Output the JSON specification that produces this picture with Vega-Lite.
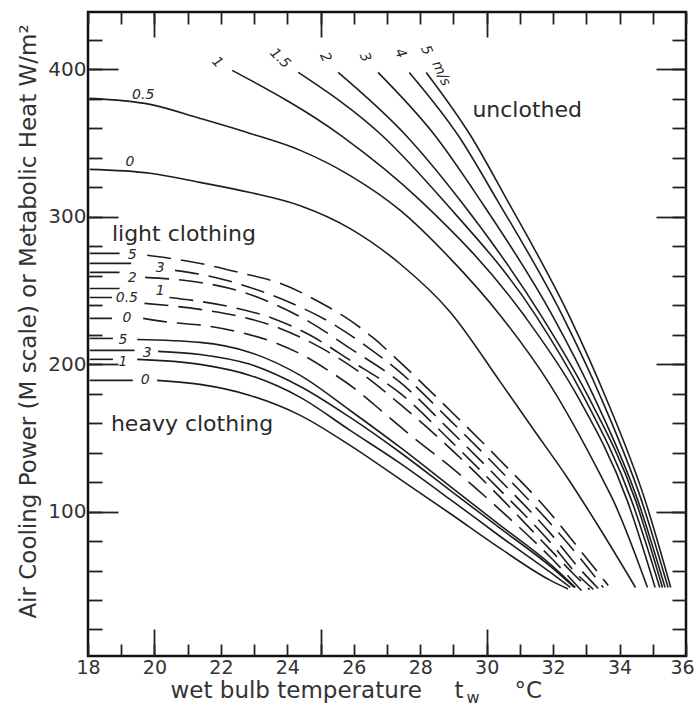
{
  "$schema": "https://vega.github.io/schema/vega-lite/v6.json",
  "width": 598,
  "height": 644,
  "autosize": {"type": "none"},
  "padding": {"left": 88, "top": 12, "right": 11, "bottom": 50},
  "background": "white",
  "config": {
    "view": {"stroke": "#111", "strokeWidth": 2.5},
    "axis": {"domain": false, "grid": false, "tickColor": "#222", "tickWidth": 1.8, "labelFont": "DejaVu Sans", "titleFont": "DejaVu Sans", "labelColor": "#333", "titleColor": "#333", "titleFontWeight": "normal", "labelFlush": false, "labelOverlap": false}
  },
  "datasets": {
    "unclothed": [
      {"c":"U0","p":"b","x":18.05,"y":332.2},{"c":"U0","p":"b","x":19.87,"y":329.6},{"c":"U0","p":"b","x":21.37,"y":323.4},{"c":"U0","p":"b","x":22.88,"y":316.5},{"c":"U0","p":"b","x":24.39,"y":307.5},{"c":"U0","p":"b","x":25.89,"y":292.0},{"c":"U0","p":"b","x":27.40,"y":268.0},{"c":"U0","p":"b","x":28.90,"y":235.5},{"c":"U0","p":"b","x":30.41,"y":188.0},{"c":"U0","p":"b","x":31.40,"y":156.0},{"c":"U0","p":"b","x":32.43,"y":123.0},{"c":"U0","p":"b","x":33.42,"y":88.0},{"c":"U0","p":"b","x":34.48,"y":48.5},
      {"c":"U05","p":"b","x":18.05,"y":380.4},{"c":"U05","p":"b","x":19.87,"y":376.3},{"c":"U05","p":"b","x":21.37,"y":366.8},{"c":"U05","p":"b","x":22.88,"y":356.6},{"c":"U05","p":"b","x":24.39,"y":345.1},{"c":"U05","p":"b","x":25.89,"y":328.0},{"c":"U05","p":"b","x":27.40,"y":304.4},{"c":"U05","p":"b","x":28.90,"y":271.8},{"c":"U05","p":"b","x":30.41,"y":233.1},{"c":"U05","p":"b","x":31.92,"y":185.6},{"c":"U05","p":"b","x":33.42,"y":125.0},{"c":"U05","p":"b","x":33.81,"y":107.6},{"c":"U05","p":"b","x":34.84,"y":48.5},
      {"c":"U1","p":"b","x":22.34,"y":399.4},{"c":"U1","p":"b","x":25.63,"y":355.0},{"c":"U1","p":"b","x":28.00,"y":311.2},{"c":"U1","p":"b","x":31.13,"y":233.0},{"c":"U1","p":"b","x":32.72,"y":178.8},{"c":"U1","p":"b","x":34.23,"y":107.6},{"c":"U1","p":"b","x":35.07,"y":48.5},
      {"c":"U15","p":"b","x":24.33,"y":398.0},{"c":"U15","p":"b","x":26.86,"y":355.0},{"c":"U15","p":"b","x":28.69,"y":311.2},{"c":"U15","p":"b","x":31.48,"y":233.0},{"c":"U15","p":"b","x":32.90,"y":178.8},{"c":"U15","p":"b","x":34.36,"y":107.6},{"c":"U15","p":"b","x":35.21,"y":48.5},
      {"c":"U2","p":"b","x":25.53,"y":398.0},{"c":"U2","p":"b","x":27.58,"y":355.0},{"c":"U2","p":"b","x":29.20,"y":311.2},{"c":"U2","p":"b","x":31.64,"y":233.0},{"c":"U2","p":"b","x":33.04,"y":178.8},{"c":"U2","p":"b","x":34.48,"y":107.6},{"c":"U2","p":"b","x":35.29,"y":48.5},
      {"c":"U3","p":"b","x":26.73,"y":398.0},{"c":"U3","p":"b","x":28.45,"y":355.0},{"c":"U3","p":"b","x":29.81,"y":311.2},{"c":"U3","p":"b","x":31.98,"y":233.0},{"c":"U3","p":"b","x":33.21,"y":178.8},{"c":"U3","p":"b","x":34.55,"y":107.6},{"c":"U3","p":"b","x":35.37,"y":48.5},
      {"c":"U4","p":"b","x":27.67,"y":398.0},{"c":"U4","p":"b","x":29.15,"y":355.0},{"c":"U4","p":"b","x":30.32,"y":311.2},{"c":"U4","p":"b","x":32.28,"y":233.0},{"c":"U4","p":"b","x":33.41,"y":178.8},{"c":"U4","p":"b","x":34.66,"y":107.6},{"c":"U4","p":"b","x":35.46,"y":48.5},
      {"c":"U5","p":"b","x":28.18,"y":398.0},{"c":"U5","p":"b","x":29.52,"y":355.0},{"c":"U5","p":"b","x":30.62,"y":311.2},{"c":"U5","p":"b","x":32.48,"y":233.0},{"c":"U5","p":"b","x":33.56,"y":178.8},{"c":"U5","p":"b","x":34.77,"y":107.6},{"c":"U5","p":"b","x":35.54,"y":48.5}
    ],
    "heavy": [
      {"c":"H5","p":"a","x":18.05,"y":217.5},{"c":"H5","p":"a","x":18.75,"y":217.5},
      {"c":"H5","p":"b","x":19.48,"y":216.8},{"c":"H5","p":"b","x":21.37,"y":214.8},{"c":"H5","p":"b","x":22.88,"y":208.0},{"c":"H5","p":"b","x":24.39,"y":192.4},{"c":"H5","p":"b","x":25.89,"y":168.6},{"c":"H5","p":"b","x":27.40,"y":143.5},{"c":"H5","p":"b","x":28.90,"y":117.1},{"c":"H5","p":"b","x":30.41,"y":90.6},{"c":"H5","p":"b","x":31.92,"y":64.2},{"c":"H5","p":"b","x":32.67,"y":48.5},
      {"c":"H3","p":"a","x":18.05,"y":209.4},{"c":"H3","p":"a","x":19.40,"y":209.4},
      {"c":"H3","p":"b","x":20.11,"y":208.7},{"c":"H3","p":"b","x":21.37,"y":206.6},{"c":"H3","p":"b","x":22.88,"y":199.9},{"c":"H3","p":"b","x":24.39,"y":184.9},{"c":"H3","p":"b","x":25.89,"y":163.9},{"c":"H3","p":"b","x":27.40,"y":140.1},{"c":"H3","p":"b","x":28.90,"y":114.4},{"c":"H3","p":"b","x":30.41,"y":88.6},{"c":"H3","p":"b","x":31.92,"y":62.8},{"c":"H3","p":"b","x":32.64,"y":48.5},
      {"c":"H1","p":"a","x":18.05,"y":203.3},{"c":"H1","p":"a","x":18.75,"y":203.3},
      {"c":"H1","p":"b","x":19.48,"y":203.3},{"c":"H1","p":"b","x":21.37,"y":199.9},{"c":"H1","p":"b","x":22.88,"y":192.4},{"c":"H1","p":"b","x":24.39,"y":177.5},{"c":"H1","p":"b","x":25.89,"y":155.1},{"c":"H1","p":"b","x":27.40,"y":132.7},{"c":"H1","p":"b","x":28.90,"y":108.3},{"c":"H1","p":"b","x":30.41,"y":83.1},{"c":"H1","p":"b","x":31.92,"y":58.7},{"c":"H1","p":"b","x":32.52,"y":48.5},
      {"c":"H0","p":"a","x":18.05,"y":189.0},{"c":"H0","p":"a","x":19.35,"y":189.0},
      {"c":"H0","p":"b","x":20.08,"y":189.0},{"c":"H0","p":"b","x":21.37,"y":186.3},{"c":"H0","p":"b","x":22.88,"y":178.8},{"c":"H0","p":"b","x":24.39,"y":165.3},{"c":"H0","p":"b","x":25.89,"y":144.9},{"c":"H0","p":"b","x":27.40,"y":121.8},{"c":"H0","p":"b","x":28.90,"y":98.7},{"c":"H0","p":"b","x":30.41,"y":75.0},{"c":"H0","p":"b","x":31.92,"y":53.3},{"c":"H0","p":"b","x":32.45,"y":47.5}
    ],
    "light": [
      {"c":"L5","p":"a","x":18.05,"y":275.2},{"c":"L5","p":"a","x":18.95,"y":275.2},
      {"c":"L5","p":"b","x":19.78,"y":273.9},{"c":"L5","p":"b","x":20.68,"y":271.1},{"c":"L5","p":"b","x":21.52,"y":267.7},{"c":"L5","p":"b","x":22.67,"y":261.6},{"c":"L5","p":"b","x":23.78,"y":254.9},{"c":"L5","p":"b","x":24.99,"y":241.9},{"c":"L5","p":"b","x":25.89,"y":229.7},{"c":"L5","p":"b","x":26.58,"y":218.0},{"c":"L5","p":"b","x":27.40,"y":201.2},{"c":"L5","p":"b","x":28.90,"y":168.6},{"c":"L5","p":"b","x":30.41,"y":134.7},{"c":"L5","p":"b","x":31.92,"y":98.7},{"c":"L5","p":"b","x":32.82,"y":73.6},{"c":"L5","p":"b","x":33.66,"y":49.9},
      {"c":"L3","p":"a","x":18.05,"y":268.4},{"c":"L3","p":"a","x":19.30,"y":268.4},
      {"c":"L3","p":"b","x":20.62,"y":263.7},{"c":"L3","p":"b","x":21.83,"y":258.9},{"c":"L3","p":"b","x":22.88,"y":252.1},{"c":"L3","p":"b","x":24.08,"y":241.9},{"c":"L3","p":"b","x":25.29,"y":228.4},{"c":"L3","p":"b","x":26.34,"y":212.8},{"c":"L3","p":"b","x":27.40,"y":194.4},{"c":"L3","p":"b","x":28.90,"y":161.9},{"c":"L3","p":"b","x":30.41,"y":127.9},{"c":"L3","p":"b","x":31.92,"y":91.9},{"c":"L3","p":"b","x":32.82,"y":68.2},{"c":"L3","p":"b","x":33.51,"y":48.5},
      {"c":"L2","p":"a","x":18.05,"y":262.3},{"c":"L2","p":"a","x":18.95,"y":262.3},
      {"c":"L2","p":"b","x":19.72,"y":258.9},{"c":"L2","p":"b","x":21.37,"y":255.5},{"c":"L2","p":"b","x":22.49,"y":250.1},{"c":"L2","p":"b","x":23.69,"y":239.9},{"c":"L2","p":"b","x":24.69,"y":228.4},{"c":"L2","p":"b","x":25.89,"y":210.7},{"c":"L2","p":"b","x":27.40,"y":187.6},{"c":"L2","p":"b","x":28.90,"y":155.1},{"c":"L2","p":"b","x":30.41,"y":121.1},{"c":"L2","p":"b","x":31.92,"y":85.2},{"c":"L2","p":"b","x":32.76,"y":62.2},{"c":"L2","p":"b","x":33.36,"y":47.8},
      {"c":"L1","p":"a","x":18.05,"y":251.4},{"c":"L1","p":"a","x":18.95,"y":251.4},
      {"c":"L1","p":"b","x":20.45,"y":245.3},{"c":"L1","p":"b","x":21.16,"y":243.3},{"c":"L1","p":"b","x":22.37,"y":238.5},{"c":"L1","p":"b","x":23.57,"y":231.1},{"c":"L1","p":"b","x":24.69,"y":219.6},{"c":"L1","p":"b","x":25.89,"y":202.6},{"c":"L1","p":"b","x":27.40,"y":180.2},{"c":"L1","p":"b","x":28.90,"y":148.3},{"c":"L1","p":"b","x":30.41,"y":114.4},{"c":"L1","p":"b","x":31.92,"y":79.0},{"c":"L1","p":"b","x":32.67,"y":58.7},{"c":"L1","p":"b","x":33.21,"y":47.2},
      {"c":"L05","p":"a","x":18.05,"y":245.3},{"c":"L05","p":"a","x":18.72,"y":245.3},
      {"c":"L05","p":"b","x":19.70,"y":241.3},{"c":"L05","p":"b","x":21.37,"y":237.2},{"c":"L05","p":"b","x":22.58,"y":232.4},{"c":"L05","p":"b","x":23.78,"y":224.3},{"c":"L05","p":"b","x":24.99,"y":211.4},{"c":"L05","p":"b","x":26.19,"y":194.4},{"c":"L05","p":"b","x":27.40,"y":172.7},{"c":"L05","p":"b","x":28.90,"y":142.9},{"c":"L05","p":"b","x":30.41,"y":109.6},{"c":"L05","p":"b","x":31.92,"y":74.0},{"c":"L05","p":"b","x":32.60,"y":58.0},{"c":"L05","p":"b","x":33.10,"y":47.0},
      {"c":"L0","p":"a","x":18.05,"y":231.1},{"c":"L0","p":"a","x":18.72,"y":231.1},
      {"c":"L0","p":"b","x":19.66,"y":231.1},{"c":"L0","p":"b","x":20.47,"y":228.4},{"c":"L0","p":"b","x":21.46,"y":226.3},{"c":"L0","p":"b","x":22.58,"y":221.6},{"c":"L0","p":"b","x":23.69,"y":214.1},{"c":"L0","p":"b","x":24.48,"y":206.0},{"c":"L0","p":"b","x":25.23,"y":195.8},{"c":"L0","p":"b","x":26.10,"y":182.2},{"c":"L0","p":"b","x":26.89,"y":167.3},{"c":"L0","p":"b","x":27.79,"y":150.3},{"c":"L0","p":"b","x":28.90,"y":130.6},{"c":"L0","p":"b","x":30.41,"y":101.0},{"c":"L0","p":"b","x":31.92,"y":69.0},{"c":"L0","p":"b","x":32.85,"y":46.5}
    ],
    "regions": [
      {"t":"unclothed","x":29.57,"y":367.5},
      {"t":"light clothing","x":18.72,"y":283.3},
      {"t":"heavy clothing","x":18.69,"y":154.4}
    ],
    "flatlabels": [
      {"t":"0.5","x":19.66,"y":382.4},{"t":"0","x":19.26,"y":337.0},
      {"t":"5","x":19.33,"y":273.9},{"t":"3","x":20.17,"y":265.1},{"t":"2","x":19.33,"y":258.2},{"t":"1","x":20.17,"y":249.4},{"t":"0.5","x":19.17,"y":244.6},{"t":"0","x":19.17,"y":231.1},
      {"t":"5","x":19.05,"y":216.1},{"t":"3","x":19.78,"y":207.3},{"t":"1","x":19.05,"y":201.2},{"t":"0","x":19.72,"y":189.0}
    ],
    "wind45": [
      {"t":"1","x":21.89,"y":404.8},{"t":"1.5","x":23.78,"y":407.5}
    ],
    "wind65": [
      {"t":"2","x":25.14,"y":408.2},{"t":"3","x":26.34,"y":408.2},{"t":"4","x":27.40,"y":410.9},{"t":"5","x":28.18,"y":413.0},{"t":"m/s","x":28.63,"y":397.3}
    ]
  },
  "resolve": {"axis": {"x": "independent", "y": "independent"}},
  "layer": [
    {
      "data": {"name": "unclothed"},
      "mark": {"type": "line", "interpolate": "monotone", "color": "#1e1e1e", "strokeWidth": 1.6},
      "encoding": {
        "x": {"field": "x", "type": "quantitative", "scale": {"domain": [18, 36], "nice": false, "zero": false},
          "axis": {"orient": "bottom", "values": [18,20,22,24,26,28,30,32,34], "ticks": false, "tickSize": 0, "labelPadding": 2, "labelFontSize": 19, "title": "wet bulb temperature", "titleFontSize": 23, "titleX": 82, "titleY": 41, "titleAlign": "left", "titleBaseline": "alphabetic"}},
        "y": {"field": "y", "type": "quantitative", "scale": {"domain": [2, 439], "nice": false, "zero": false},
          "axis": {"orient": "left", "values": [100,200,300,400], "ticks": false, "tickSize": 0, "labelPadding": 2, "labelFontSize": 20, "title": "Air Cooling Power (M scale) or Metabolic Heat  W/m²", "titleFontSize": 23, "titleX": -60, "titleY": 309, "titleAngle": -90, "titleAlign": "center", "titleBaseline": "middle"}},
        "detail": [{"field": "c"}, {"field": "p"}]
      }
    },
    {
      "data": {"name": "heavy"},
      "mark": {"type": "line", "interpolate": "monotone", "color": "#1e1e1e", "strokeWidth": 1.6},
      "encoding": {
        "x": {"field": "x", "type": "quantitative", "scale": {"domain": [18, 36], "nice": false, "zero": false},
          "axis": {"orient": "bottom", "values": [18,19,20,21,22,23,24,25,26,27,28,29,30,31,32,33,34,35,36], "tickSize": -12, "labels": false, "title": "t", "titleFontSize": 23, "titleX": 366, "titleY": 41, "titleAlign": "left", "titleBaseline": "alphabetic"}},
        "y": {"field": "y", "type": "quantitative", "scale": {"domain": [2, 439], "nice": false, "zero": false},
          "axis": {"orient": "left", "values": [20,40,60,80,100,120,140,160,180,200,220,240,260,280,300,320,340,360,380,400,420], "tickSize": -14, "labels": false, "title": null}},
        "detail": [{"field": "c"}, {"field": "p"}]
      }
    },
    {
      "data": {"name": "light"},
      "mark": {"type": "line", "interpolate": "monotone", "color": "#1e1e1e", "strokeWidth": 1.6},
      "encoding": {
        "x": {"field": "x", "type": "quantitative", "scale": {"domain": [18, 36], "nice": false, "zero": false},
          "axis": {"orient": "bottom", "values": [20,25,30], "tickSize": -27, "labels": false, "title": "w", "titleFontSize": 16, "titleX": 378, "titleY": 46, "titleAlign": "left", "titleBaseline": "alphabetic"}},
        "y": {"field": "y", "type": "quantitative", "scale": {"domain": [2, 439], "nice": false, "zero": false},
          "axis": {"orient": "left", "values": [100,200,300,400], "tickSize": -30, "labels": false, "title": null}},
        "strokeDash": {"field": "p", "type": "nominal", "scale": {"domain": ["a", "b"], "range": [[1, 0], [24, 10]]}, "legend": null},
        "detail": [{"field": "c"}, {"field": "p"}]
      }
    },
    {
      "data": {"name": "regions"},
      "mark": {"type": "text", "font": "DejaVu Sans", "fontSize": 22, "color": "#2a2a2a", "align": "left", "baseline": "alphabetic"},
      "encoding": {
        "x": {"field": "x", "type": "quantitative", "scale": {"domain": [18, 36], "nice": false, "zero": false},
          "axis": {"orient": "top", "values": [18,19,20,21,22,23,24,25,26,27,28,29,30,31,32,33,34,35,36], "tickSize": -12, "labels": false, "title": "°C", "titleFontSize": 23, "titleX": 426, "titleY": 685, "titleAlign": "left", "titleBaseline": "alphabetic"}},
        "y": {"field": "y", "type": "quantitative", "scale": {"domain": [2, 439], "nice": false, "zero": false},
          "axis": {"orient": "right", "values": [20,40,60,80,100,120,140,160,180,200,220,240,260,280,300,320,340,360,380,400,420], "tickSize": -14, "labels": false, "title": null}},
        "text": {"field": "t"}
      }
    },
    {
      "data": {"name": "flatlabels"},
      "mark": {"type": "text", "font": "DejaVu Sans", "fontSize": 14, "fontStyle": "italic", "color": "#2a2a2a", "align": "center", "baseline": "middle"},
      "encoding": {
        "x": {"field": "x", "type": "quantitative", "scale": {"domain": [18, 36], "nice": false, "zero": false},
          "axis": {"orient": "top", "values": [20,25,30], "tickSize": -25, "labels": false, "title": null}},
        "y": {"field": "y", "type": "quantitative", "scale": {"domain": [2, 439], "nice": false, "zero": false},
          "axis": {"orient": "right", "values": [100,200,300,400], "tickSize": -30, "labels": false, "title": null}},
        "text": {"field": "t"}
      }
    },
    {
      "data": {"name": "wind45"},
      "mark": {"type": "text", "font": "DejaVu Sans", "fontSize": 14, "fontStyle": "italic", "color": "#2a2a2a", "align": "center", "baseline": "middle", "angle": 45},
      "encoding": {
        "x": {"field": "x", "type": "quantitative", "scale": {"domain": [18, 36], "nice": false, "zero": false},
          "axis": {"orient": "bottom", "values": [36], "ticks": false, "tickSize": 0, "labelPadding": 2, "labelFontSize": 19, "labelOffset": -4, "title": null}},
        "y": {"field": "y", "type": "quantitative", "scale": {"domain": [2, 439], "nice": false, "zero": false}, "axis": null},
        "text": {"field": "t"}
      }
    },
    {
      "data": {"name": "wind65"},
      "mark": {"type": "text", "font": "DejaVu Sans", "fontSize": 14, "fontStyle": "italic", "color": "#2a2a2a", "align": "center", "baseline": "middle", "angle": 65},
      "encoding": {
        "x": {"field": "x", "type": "quantitative", "scale": {"domain": [18, 36], "nice": false, "zero": false}, "axis": null},
        "y": {"field": "y", "type": "quantitative", "scale": {"domain": [2, 439], "nice": false, "zero": false}, "axis": null},
        "text": {"field": "t"}
      }
    }
  ]
}
